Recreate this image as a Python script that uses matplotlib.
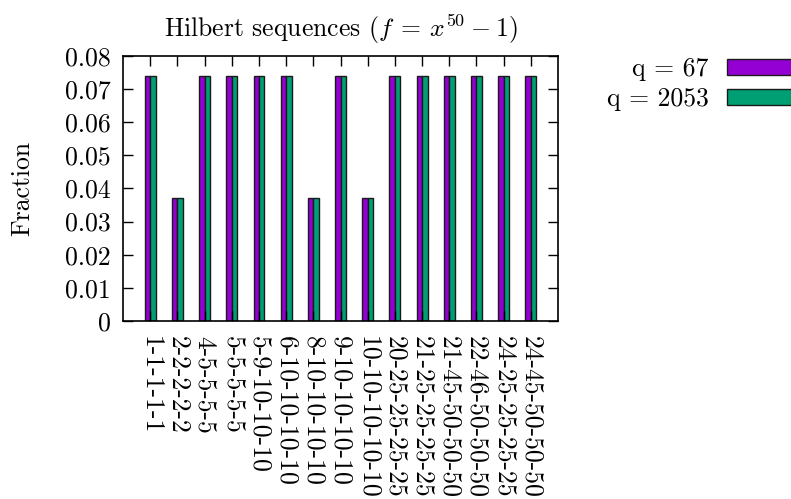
import matplotlib
matplotlib.use("Agg")
from matplotlib import pyplot as plt
import numpy as np

# sequences on the x axis and the fraction for each modulus
sequences = ["1-1-1-1-1", "2-2-2-2-2", "4-5-5-5-5", "5-5-5-5-5",
             "5-9-10-10-10", "6-10-10-10-10", "8-10-10-10-10",
             "9-10-10-10-10", "10-10-10-10-10", "20-25-25-25-25",
             "21-25-25-25-25", "21-45-50-50-50", "22-46-50-50-50",
             "24-25-25-25-25", "24-45-50-50-50"]
frac_q67 = [0.0741, 0.0370, 0.0741, 0.0741, 0.0741, 0.0741, 0.0370,
            0.0741, 0.0370, 0.0741, 0.0741, 0.0741, 0.0741, 0.0741, 0.0741]
frac_q2053 = [0.0741, 0.0370, 0.0741, 0.0741, 0.0741, 0.0741, 0.0370,
              0.0741, 0.0370, 0.0741, 0.0741, 0.0741, 0.0741, 0.0741, 0.0741]
series_labels = ["q = 67", "q = 2053"]
y_ticks = [0, 0.01, 0.02, 0.03, 0.04, 0.05, 0.06, 0.07, 0.08]
y_tick_labels = ["0", "0.01", "0.02", "0.03", "0.04", "0.05", "0.06", "0.07", "0.08"]

plt.rcParams['font.family'] = ['cmr10', 'DejaVu Serif']
plt.rcParams['mathtext.fontset'] = 'cm'
plt.rcParams['axes.unicode_minus'] = False
fs = 18.5

fig = plt.figure(figsize=(7.91, 4.99), dpi=100)
ax = fig.add_axes([0.1555, 0.3567, 0.5500, 0.5311])

x = np.arange(len(sequences))
w = 0.2
ax.bar(x - w / 2, frac_q67, width=w, color="#9400d3", edgecolor="#1a1a1a",
       linewidth=1.0, label=series_labels[0])
ax.bar(x + w / 2, frac_q2053, width=w, color="#009e73", edgecolor="#1a1a1a",
       linewidth=1.0, label=series_labels[1])

ax.set_xlim(-1, len(sequences))
ax.set_ylim(0, 0.08)
ax.set_xticks(x)
ax.set_xticklabels(sequences, rotation=-90, ha="center", va="top", fontsize=fs)
ax.set_yticks(y_ticks)
ax.set_yticklabels(y_tick_labels, fontsize=fs)
ax.tick_params(direction="in", length=7, width=1, top=True, right=True,
               pad=9)
ax.tick_params(axis="x", pad=11)
for s in ax.spines.values():
    s.set_linewidth(1.2)

ax.set_ylabel("Fraction", fontsize=fs, labelpad=22)
ax.set_title(r"Hilbert sequences ($f\:=\:x^{50}\:-\:1$)", fontsize=fs, pad=14)

ax.legend(loc="upper right", bbox_to_anchor=(1.016, 0.885),
          bbox_transform=fig.transFigure, frameon=False, markerfirst=False,
          fontsize=fs, handlelength=3.0, handleheight=0.55,
          handletextpad=0.7, labelspacing=0.25, borderpad=0, borderaxespad=0)

fig.savefig("out.png", dpi=100)
